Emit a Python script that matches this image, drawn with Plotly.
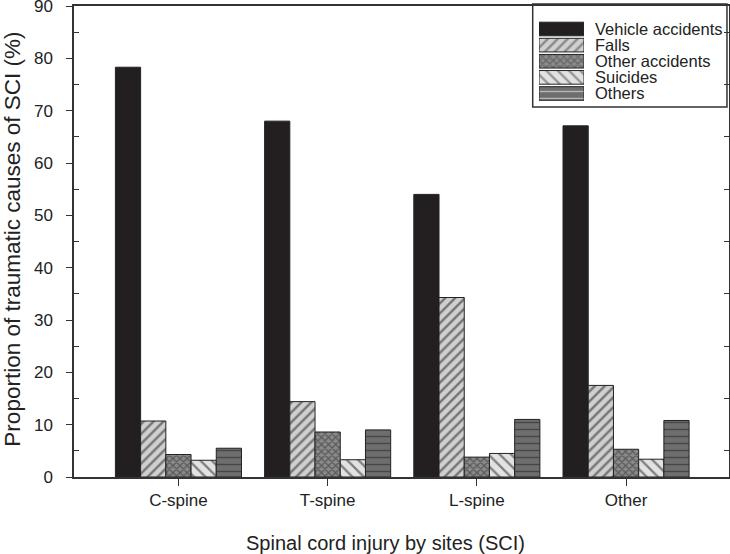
import plotly.graph_objects as go

sites = ["C-spine", "T-spine", "L-spine", "Other"]
causes = ["Vehicle accidents", "Falls", "Other accidents", "Suicides", "Others"]
vehicle = [78.3, 68.0, 54.0, 67.1]
falls = [10.7, 14.4, 34.3, 17.5]
other_acc = [4.3, 8.6, 3.8, 5.3]
suicides = [3.2, 3.3, 4.5, 3.4]
others = [5.5, 9.0, 11.0, 10.8]
y_ticks = [0, 10, 20, 30, 40, 50, 60, 70, 80, 90]
y_minor = [5, 15, 25, 35, 45, 55, 65, 75, 85]
x_title = "Spinal cord injury by sites (SCI)"
y_title = "Proportion of traumatic causes of SCI (%)"

series = [vehicle, falls, other_acc, suicides, others]
styles = [
    dict(bg="#231f20", fg="#231f20", shape="", size=8, sol=0.3),
    dict(bg="#d0d0d0", fg="#1a1a1a", shape="/", size=7, sol=0.35),
    dict(bg="#8a8a8a", fg="#2a2a2a", shape="x", size=5, sol=0.45),
    dict(bg="#e2e2e2", fg="#1a1a1a", shape="\\", size=8, sol=0.28),
    dict(bg="#6e6e6e", fg="#1e1e1e", shape="-", size=7, sol=0.2),
]

FONT = "Liberation Sans, Arial, sans-serif"
INK = "#222222"
fig = go.Figure()
for name, vals, st in zip(causes, series, styles):
    fig.add_trace(go.Bar(
        x=sites, y=vals, name=name, showlegend=False,
        marker=dict(
            color=st["bg"],
            line=dict(color=INK, width=1),
            pattern=dict(shape=st["shape"], bgcolor=st["bg"], fgcolor=st["fg"],
                         size=st["size"], solidity=st["sol"], fillmode="overlay"),
        ),
    ))

# right-side inward minor ticks
fig.add_trace(go.Scatter(x=[sites[0]], y=[0], yaxis="y2", mode="markers",
                         marker=dict(opacity=0), showlegend=False, hoverinfo="skip"))

# custom legend: swatches drawn as one horizontal bar trace on a small hidden subplot
fig.add_trace(go.Bar(
    y=causes, x=[1] * len(causes), orientation="h", xaxis="x3", yaxis="y3",
    showlegend=False, hoverinfo="skip",
    marker=dict(
        color=[s["bg"] for s in styles],
        line=dict(color=INK, width=1),
        pattern=dict(shape=[s["shape"] for s in styles],
                     bgcolor=[s["bg"] for s in styles],
                     fgcolor=[s["fg"] for s in styles],
                     size=[s["size"] for s in styles],
                     solidity=[s["sol"] for s in styles], fillmode="overlay"),
    ),
))
annotations = [
    dict(text=c, x=1, y=c, xref="x3", yref="y3", xanchor="left", yanchor="middle",
         xshift=9, showarrow=False, font=dict(size=16.5, family=FONT, color=INK))
    for c in causes
]
annotations += [
    dict(text=x_title, x=0.4763, y=-0.140, xref="paper", yref="paper",
         xanchor="center", yanchor="middle", showarrow=False,
         font=dict(size=20, family=FONT, color=INK)),
    dict(text=y_title, x=-0.0931, y=0.504, xref="paper", yref="paper",
         xanchor="center", yanchor="middle", textangle=-90, showarrow=False,
         font=dict(size=22.5, family=FONT, color=INK)),
]

fig.update_layout(
    width=730, height=554,
    margin=dict(l=74, r=1, t=6, b=77, autoexpand=False),
    paper_bgcolor="white", plot_bgcolor="white",
    barmode="group", bargap=0.155, bargroupgap=0,
    font=dict(family=FONT, color=INK),
    showlegend=False,
    annotations=annotations,
    shapes=[dict(type="rect", xref="paper", yref="paper", x0=0.7003, x1=0.9969,
                 y0=0.7856, y1=1.0042, line=dict(color="#333333", width=1.5),
                 fillcolor="white", layer="below")],
    xaxis=dict(
        range=[-0.7, 3.69], showline=True, linecolor="#333333", linewidth=1.5,
        mirror=True, ticks="outside", ticklen=7, tickcolor="#333333",
        tickfont=dict(size=17, family=FONT, color=INK),
        showgrid=False, zeroline=False, automargin=False,
    ),
    yaxis=dict(
        range=[0, 90], tickvals=y_ticks, showline=True, linecolor="#333333",
        linewidth=1.5, mirror=True, ticks="outside", ticklen=6, tickcolor="#333333",
        minor=dict(tickvals=y_minor, ticks="inside", ticklen=5, tickcolor="#333333"),
        tickfont=dict(size=17, family=FONT, color=INK),
        ticklabeloverflow="allow", ticklabelstandoff=10,
        showgrid=False, zeroline=False, automargin=False,
    ),
    yaxis2=dict(
        range=[0, 90], overlaying="y", side="right", tickvals=y_minor,
        ticks="inside", ticklen=5, tickcolor="#333333", showticklabels=False,
        showline=False, showgrid=False, zeroline=False, automargin=False,
    ),
    xaxis3=dict(domain=[0.7099, 0.7786], anchor="y3", range=[0, 1], visible=False,
                fixedrange=True),
    yaxis3=dict(domain=[0.7909, 0.9745], anchor="x3", autorange="reversed",
                type="category", visible=False, fixedrange=True),
)

fig.write_html("out.html", config={"displayModeBar": False},
               post_script="document.body.style.margin='0';")
